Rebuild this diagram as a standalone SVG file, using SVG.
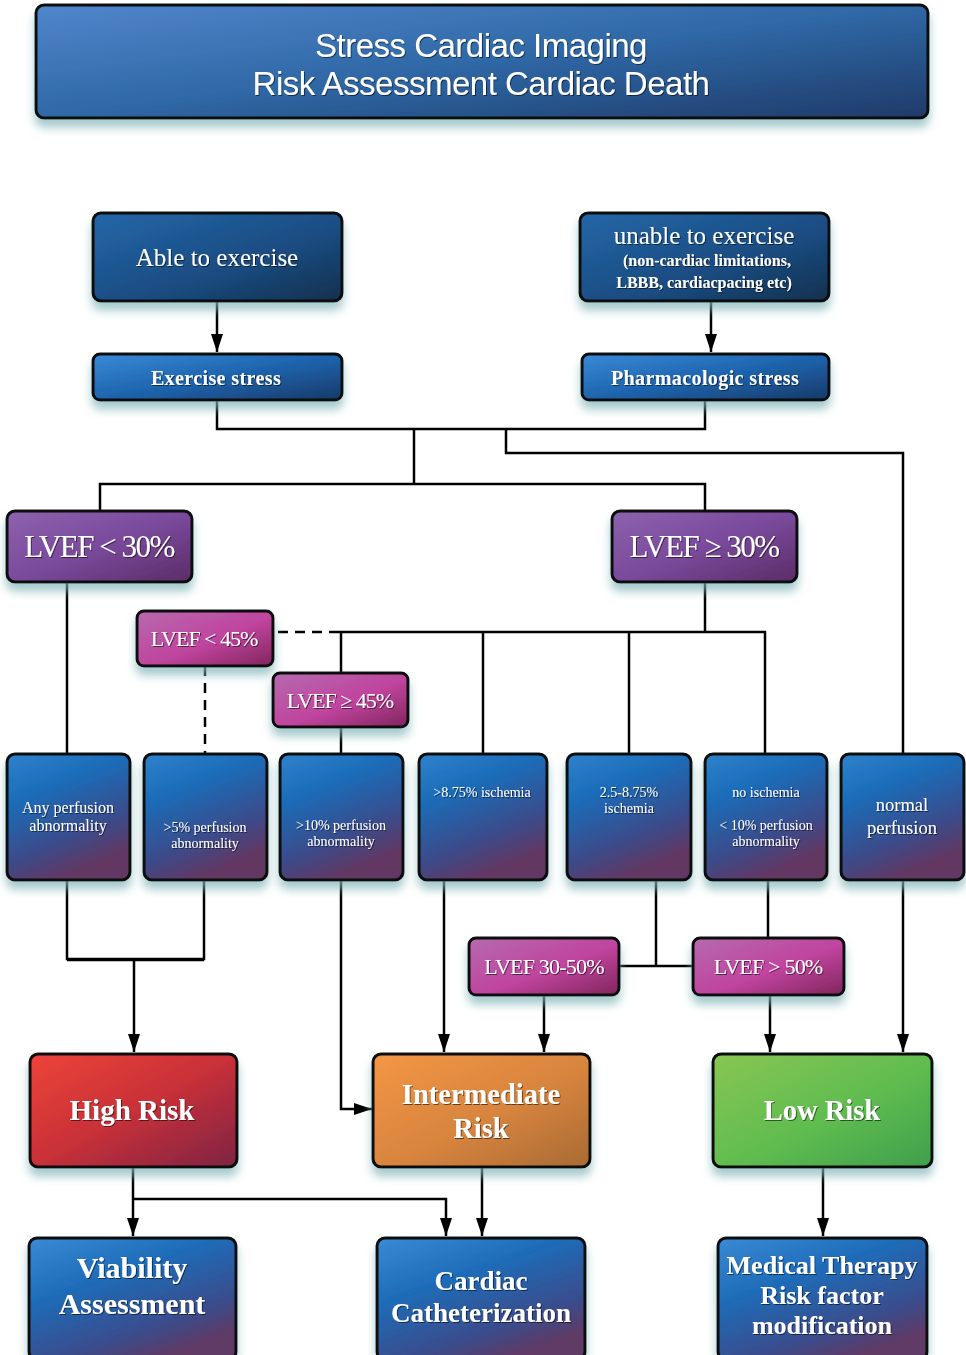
<svg xmlns="http://www.w3.org/2000/svg" width="966" height="1355" viewBox="0 0 966 1355">
<defs>
<linearGradient id="gTitle" x1="0" y1="0" x2="1" y2="1"><stop offset="0" stop-color="#5186cc"/><stop offset="0.5" stop-color="#2f68a6"/><stop offset="1" stop-color="#1f3a68"/></linearGradient>
<linearGradient id="gNavy" x1="0" y1="0" x2="1" y2="1"><stop offset="0" stop-color="#2467a8"/><stop offset="0.6" stop-color="#1a4b80"/><stop offset="1" stop-color="#15304e"/></linearGradient>
<linearGradient id="gStress" x1="0" y1="0" x2="1" y2="1"><stop offset="0" stop-color="#3a8ad8"/><stop offset="0.5" stop-color="#1e64ae"/><stop offset="1" stop-color="#173a68"/></linearGradient>
<linearGradient id="gPurple" x1="0" y1="0" x2="1" y2="1"><stop offset="0" stop-color="#8d62ad"/><stop offset="0.5" stop-color="#7a4a9c"/><stop offset="1" stop-color="#5a2c66"/></linearGradient>
<linearGradient id="gPink" x1="0" y1="0" x2="1" y2="1"><stop offset="0" stop-color="#b66aae"/><stop offset="0.55" stop-color="#c0449e"/><stop offset="1" stop-color="#80255c"/></linearGradient>
<linearGradient id="gRow" x1="0" y1="0" x2="0.4" y2="1"><stop offset="0" stop-color="#2f82cc"/><stop offset="0.35" stop-color="#1b6cb8"/><stop offset="0.75" stop-color="#3b4b8a"/><stop offset="1" stop-color="#623763"/></linearGradient>
<linearGradient id="gRed" x1="0" y1="0" x2="1" y2="1"><stop offset="0" stop-color="#ee443a"/><stop offset="0.5" stop-color="#c83038"/><stop offset="1" stop-color="#7e2444"/></linearGradient>
<linearGradient id="gOrange" x1="0" y1="0" x2="1" y2="1"><stop offset="0" stop-color="#f49645"/><stop offset="0.55" stop-color="#d7843e"/><stop offset="1" stop-color="#a86a34"/></linearGradient>
<linearGradient id="gGreen" x1="0" y1="0" x2="1" y2="1"><stop offset="0" stop-color="#88c652"/><stop offset="0.55" stop-color="#5fbc50"/><stop offset="1" stop-color="#3f9f4c"/></linearGradient>
<linearGradient id="gBottom" x1="0" y1="0" x2="0.6" y2="1"><stop offset="0" stop-color="#3a8ad6"/><stop offset="0.4" stop-color="#1e6cb8"/><stop offset="0.8" stop-color="#3a4c8c"/><stop offset="1" stop-color="#5e3a66"/></linearGradient>
<filter id="sh" x="-20%" y="-20%" width="140%" height="160%">
<feGaussianBlur in="SourceAlpha" stdDeviation="5"/>
<feOffset dx="0" dy="8" result="b"/>
<feFlood flood-color="#7fb3b6" flood-opacity="0.7"/>
<feComposite in2="b" operator="in"/>
<feMerge><feMergeNode/><feMergeNode in="SourceGraphic"/></feMerge>
</filter>
<filter id="ts" x="-10%" y="-30%" width="120%" height="160%">
<feDropShadow dx="1" dy="1" stdDeviation="0.6" flood-color="#000" flood-opacity="0.55"/>
</filter>
<marker id="ahd" viewBox="0 0 18 12" refX="18" refY="6" markerWidth="18" markerHeight="12" markerUnits="userSpaceOnUse" orient="auto"><path d="M0,0 L18,6 L0,12 Z" fill="#000"/></marker>
</defs>
<style>
.box{stroke:#0a0a0a;stroke-width:3;}
.ln{fill:none;stroke:#000;stroke-width:2.5;}
.dash{fill:none;stroke:#000;stroke-width:2.5;stroke-dasharray:10 7;}
.t{fill:#fff;font-family:"Liberation Serif","Times New Roman",serif;text-anchor:middle;}
.b{font-weight:bold;}
.ts{filter:url(#ts);}
.title{fill:#fff;font-family:"Liberation Sans",Arial,sans-serif;font-size:33px;text-anchor:middle;letter-spacing:-0.5px;}
</style>
<rect width="966" height="1355" fill="#fff"/>

<g id="connectors">
<path class="ln" d="M217,301 V352" marker-end="url(#ahd)"/>
<path class="ln" d="M711,301 V352" marker-end="url(#ahd)"/>
<path class="ln" d="M217,400 V429 H705 V400"/>
<path class="ln" d="M414,429 V484"/>
<path class="ln" d="M100,511 V484 H705 V511"/>
<path class="ln" d="M506,429 V453 H903 V753"/>
<path class="ln" d="M67,582 V753"/>
<path class="ln" d="M705,582 V632"/>
<path class="ln" d="M338,632 H765 V753"/>
<path class="dash" d="M278,632 H338"/>
<path class="ln" d="M341,632 V673"/>
<path class="ln" d="M341,727 V753"/>
<path class="ln" d="M483,632 V753"/>
<path class="ln" d="M629,632 V753"/>
<path class="dash" d="M205,666 V753"/>
<path class="ln" d="M67,880 V959 H204 V880"/>
<path class="ln" d="M67,960 H204" stroke-width="4"/>
<path class="ln" d="M134,960 V1052" marker-end="url(#ahd)"/>
<path class="ln" d="M341,880 V1109 H372" marker-end="url(#ahd)"/>
<path class="ln" d="M444,880 V1052" marker-end="url(#ahd)"/>
<path class="ln" d="M656,880 V966"/>
<path class="ln" d="M619,966 H693" stroke-width="4"/>
<path class="ln" d="M768,880 V938"/>
<path class="ln" d="M544,995 V1052" marker-end="url(#ahd)"/>
<path class="ln" d="M770,995 V1052" marker-end="url(#ahd)"/>
<path class="ln" d="M903,880 V1052" marker-end="url(#ahd)"/>
<path class="ln" d="M133,1167 V1236" marker-end="url(#ahd)"/>
<path class="ln" d="M133,1199 H446 V1236" marker-end="url(#ahd)"/>
<path class="ln" d="M482,1167 V1236" marker-end="url(#ahd)"/>
<path class="ln" d="M823,1167 V1236" marker-end="url(#ahd)"/>
</g>

<g id="title" filter="url(#sh)">
<rect class="box" x="36" y="5" width="892" height="113" rx="8" fill="url(#gTitle)"/>
<text class="title ts" x="481" y="57">Stress Cardiac Imaging</text>
<text class="title ts" x="481" y="95">Risk Assessment Cardiac Death</text>
</g>

<g id="able" filter="url(#sh)">
<rect class="box" x="93" y="213" width="249" height="88" rx="8" fill="url(#gNavy)"/>
<text class="t ts" x="217" y="266" font-size="25">Able to exercise</text>
</g>
<g id="unable" filter="url(#sh)">
<rect class="box" x="580" y="213" width="249" height="88" rx="8" fill="url(#gNavy)"/>
<text class="t ts" x="704" y="244" font-size="25">unable to exercise</text>
<text class="t ts b" x="707" y="266" font-size="16">(non-cardiac limitations,</text>
<text class="t ts b" x="704" y="288" font-size="16">LBBB, cardiacpacing etc)</text>
</g>
<g id="exstress" filter="url(#sh)">
<rect class="box" x="93" y="354" width="249" height="46" rx="7" fill="url(#gStress)"/>
<text class="t ts b" x="216" y="385" font-size="20" letter-spacing="0.4">Exercise stress</text>
</g>
<g id="pharm" filter="url(#sh)">
<rect class="box" x="582" y="354" width="247" height="46" rx="7" fill="url(#gStress)"/>
<text class="t ts b" x="705" y="385" font-size="20" letter-spacing="0.4">Pharmacologic stress</text>
</g>

<g id="lvef30lt" filter="url(#sh)">
<rect class="box" x="7" y="511" width="185" height="71" rx="8" fill="url(#gPurple)"/>
<text class="t ts" x="99" y="557" font-size="31" letter-spacing="-1.5">LVEF &lt; 30%</text>
</g>
<g id="lvef30ge" filter="url(#sh)">
<rect class="box" x="612" y="511" width="185" height="71" rx="8" fill="url(#gPurple)"/>
<text class="t ts" x="704" y="557" font-size="31" letter-spacing="-1.5">LVEF ≥ 30%</text>
</g>
<g id="lvef45lt" filter="url(#sh)">
<rect class="box" x="137" y="611" width="136" height="55" rx="7" fill="url(#gPink)"/>
<text class="t ts" x="204" y="646" font-size="22" letter-spacing="-1">LVEF &lt; 45%</text>
</g>
<g id="lvef45ge" filter="url(#sh)">
<rect class="box" x="273" y="673" width="135" height="54" rx="7" fill="url(#gPink)"/>
<text class="t ts" x="340" y="708" font-size="22" letter-spacing="-1">LVEF ≥ 45%</text>
</g>

<g id="anyperf" filter="url(#sh)">
<rect class="box" x="7" y="754" width="123" height="126" rx="8" fill="url(#gRow)"/>
<text class="t ts" x="68" y="813" font-size="16">Any perfusion</text>
<text class="t ts" x="68" y="831" font-size="16">abnormality</text>
</g>
<g id="perf5" filter="url(#sh)">
<rect class="box" x="144" y="754" width="123" height="126" rx="8" fill="url(#gRow)"/>
<text class="t ts" x="205" y="832" font-size="14">&gt;5% perfusion</text>
<text class="t ts" x="205" y="848" font-size="14">abnormality</text>
</g>
<g id="perf10" filter="url(#sh)">
<rect class="box" x="280" y="754" width="123" height="126" rx="8" fill="url(#gRow)"/>
<text class="t ts" x="341" y="830" font-size="14">&gt;10% perfusion</text>
<text class="t ts" x="341" y="846" font-size="14">abnormality</text>
</g>
<g id="isch875" filter="url(#sh)">
<rect class="box" x="419" y="754" width="128" height="126" rx="8" fill="url(#gRow)"/>
<text class="t ts" x="482" y="797" font-size="14">&gt;8.75% ischemia</text>
</g>
<g id="isch25" filter="url(#sh)">
<rect class="box" x="567" y="754" width="124" height="126" rx="8" fill="url(#gRow)"/>
<text class="t ts" x="629" y="797" font-size="14">2.5-8.75%</text>
<text class="t ts" x="629" y="813" font-size="14">ischemia</text>
</g>
<g id="noisch" filter="url(#sh)">
<rect class="box" x="705" y="754" width="122" height="126" rx="8" fill="url(#gRow)"/>
<text class="t ts" x="766" y="797" font-size="14">no ischemia</text>
<text class="t ts" x="766" y="830" font-size="14">&lt; 10% perfusion</text>
<text class="t ts" x="766" y="846" font-size="14">abnormality</text>
</g>
<g id="normal" filter="url(#sh)">
<rect class="box" x="841" y="754" width="123" height="126" rx="8" fill="url(#gRow)"/>
<text class="t ts" x="902" y="811" font-size="18.5">normal</text>
<text class="t ts" x="902" y="834" font-size="18.5">perfusion</text>
</g>

<g id="lvef3050" filter="url(#sh)">
<rect class="box" x="469" y="938" width="150" height="57" rx="7" fill="url(#gPink)"/>
<text class="t ts" x="544" y="974" font-size="22" letter-spacing="-0.8">LVEF 30-50%</text>
</g>
<g id="lvef50" filter="url(#sh)">
<rect class="box" x="693" y="938" width="151" height="57" rx="7" fill="url(#gPink)"/>
<text class="t ts" x="768" y="974" font-size="22" letter-spacing="-0.8">LVEF &gt; 50%</text>
</g>

<g id="high" filter="url(#sh)">
<rect class="box" x="30" y="1054" width="207" height="113" rx="8" fill="url(#gRed)"/>
<text class="t ts b" x="132" y="1120" font-size="29">High Risk</text>
</g>
<g id="inter" filter="url(#sh)">
<rect class="box" x="373" y="1054" width="217" height="113" rx="8" fill="url(#gOrange)"/>
<text class="t ts b" x="481" y="1104" font-size="28.5">Intermediate</text>
<text class="t ts b" x="481" y="1138" font-size="28.5">Risk</text>
</g>
<g id="low" filter="url(#sh)">
<rect class="box" x="713" y="1054" width="219" height="113" rx="8" fill="url(#gGreen)"/>
<text class="t ts b" x="822" y="1120" font-size="28.5">Low Risk</text>
</g>

<g id="viab" filter="url(#sh)">
<rect class="box" x="29" y="1238" width="207" height="122" rx="8" fill="url(#gBottom)"/>
<text class="t ts b" x="132" y="1278" font-size="30">Viability</text>
<text class="t ts b" x="132" y="1314" font-size="30">Assessment</text>
</g>
<g id="cath" filter="url(#sh)">
<rect class="box" x="377" y="1238" width="208" height="122" rx="8" fill="url(#gBottom)"/>
<text class="t ts b" x="481" y="1290" font-size="27">Cardiac</text>
<text class="t ts b" x="481" y="1322" font-size="27">Catheterization</text>
</g>
<g id="medical" filter="url(#sh)">
<rect class="box" x="718" y="1238" width="209" height="122" rx="8" fill="url(#gBottom)"/>
<text class="t ts b" x="822" y="1274" font-size="26">Medical Therapy</text>
<text class="t ts b" x="822" y="1304" font-size="26">Risk factor</text>
<text class="t ts b" x="822" y="1334" font-size="26">modification</text>
</g>
</svg>
